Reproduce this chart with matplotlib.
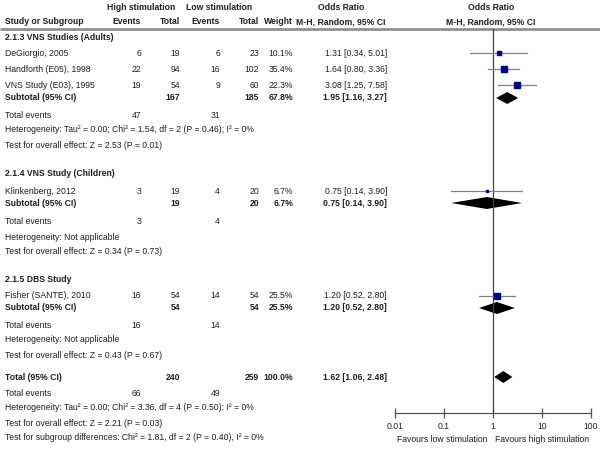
import numpy as np
import matplotlib
matplotlib.use("Agg")
import matplotlib.pyplot as plt
from matplotlib.ticker import FixedLocator, FixedFormatter

plt.rcParams['font.family'] = ['Liberation Sans', 'DejaVu Sans']

# study level data
studies = ["DeGiorgio, 2005", "Handforth (E05), 1998", "VNS Study (E03), 1995",
           "Klinkenberg, 2012", "Fisher (SANTE), 2010"]
hi_events = [6, 22, 19, 3, 16]
hi_total = [19, 94, 54, 19, 54]
lo_events = [6, 16, 9, 4, 14]
lo_total = [23, 102, 60, 20, 54]
weights = [10.1, 35.4, 22.3, 6.7, 25.5]
odds = [1.31, 1.64, 3.08, 0.75, 1.20]
ci_low = [0.34, 0.80, 1.25, 0.14, 0.52]
ci_high = [5.01, 3.36, 7.58, 3.90, 2.80]

# subgroup data
groups = ["2.1.3 VNS Studies (Adults)", "2.1.4 VNS Study (Children)", "2.1.5 DBS Study"]
sub_hi_total = [167, 19, 54]
sub_lo_total = [185, 20, 54]
sub_weight = [67.8, 6.7, 25.5]
sub_or = [1.95, 0.75, 1.20]
sub_low = [1.16, 0.14, 0.52]
sub_high = [3.27, 3.90, 2.80]
sub_hi_events = [47, 3, 16]
sub_lo_events = [31, 4, 14]
sub_het = ["Heterogeneity: Tau\u00b2 = 0.00; Chi\u00b2 = 1.54, df = 2 (P = 0.46); I\u00b2 = 0%",
           "Heterogeneity: Not applicable", "Heterogeneity: Not applicable"]
sub_test = ["Test for overall effect: Z = 2.53 (P = 0.01)",
            "Test for overall effect: Z = 0.34 (P = 0.73)",
            "Test for overall effect: Z = 0.43 (P = 0.67)"]

# overall
tot_hi_total, tot_lo_total, tot_weight = 240, 259, 100.0
tot_or, tot_low, tot_high = 1.62, 1.06, 2.48
tot_hi_events, tot_lo_events = 66, 49
tot_het = "Heterogeneity: Tau\u00b2 = 0.00; Chi\u00b2 = 3.36, df = 4 (P = 0.50); I\u00b2 = 0%"
tot_test = "Test for overall effect: Z = 2.21 (P = 0.03)"
subgroup_test = "Test for subgroup differences: Chi\u00b2 = 1.81, df = 2 (P = 0.40), I\u00b2 = 0%"

tick_vals = [0.01, 0.1, 1, 10, 100]
tick_labels = ["0.01", "0.1", "1", "10", "100"]

# row positions (pixels from top)
group_rows = [38, 174, 279]
study_rows = [53, 69, 85, 191, 296]
sub_rows = [98, 203, 308]
te_rows = [116, 221, 325]
het_rows = [130, 237, 340]
test_rows = [146, 252, 355]
total_row, total_te_row, total_het_row, total_test_row, sg_row = 377, 393, 408, 423, 438

TXT = '#1e1e1e'
FS = 6.2
W, H = 600, 454

fig = plt.figure(figsize=(6, 4.54), dpi=100)
ax = fig.add_axes([0, 0, 1, 1])
ax.set_xlim(0, W)
ax.set_ylim(H, 0)
ax.axis('off')

def t(x, y, s, ha='left', bold=False):
    ax.text(x, y, s, ha=ha, va='center', fontsize=FS, color=TXT,
            fontweight='bold' if bold else 'normal')

col_he, col_ht, col_le, col_lt, col_w, col_ci = 141, 180, 220, 259, 293, 387

# header
t(141, 7, "High stimulation", 'center', True)
t(219, 7, "Low stimulation", 'center', True)
t(341, 7, "Odds Ratio", 'center', True)
t(491, 7, "Odds Ratio", 'center', True)
t(5, 22, "Study or Subgroup", bold=True)
t(col_he, 22, "Events", 'right', True)
t(col_ht, 22, "Total", 'right', True)
t(col_le, 22, "Events", 'right', True)
t(col_lt, 22, "Total", 'right', True)
t(col_w, 22, "Weight", 'right', True)
t(341, 22, "M-H, Random, 95% CI", 'center', True)
t(491, 22, "M-H, Random, 95% CI", 'center', True)
ax.plot([0, W], [28.5, 28.5], color='#909090', lw=2, solid_capstyle='butt')

for i, name in enumerate(studies):
    y = study_rows[i]
    t(5, y, name)
    t(col_he, y, str(hi_events[i]), 'right')
    t(col_ht, y, str(hi_total[i]), 'right')
    t(col_le, y, str(lo_events[i]), 'right')
    t(col_lt, y, str(lo_total[i]), 'right')
    t(col_w, y, "%.1f%%" % weights[i], 'right')
    t(col_ci, y, "%.2f [%.2f, %.2f]" % (odds[i], ci_low[i], ci_high[i]), 'right')

for g, name in enumerate(groups):
    t(5, group_rows[g], name, bold=True)
    y = sub_rows[g]
    t(5, y, "Subtotal (95% CI)", bold=True)
    t(col_ht, y, str(sub_hi_total[g]), 'right', True)
    t(col_lt, y, str(sub_lo_total[g]), 'right', True)
    t(col_w, y, "%.1f%%" % sub_weight[g], 'right', True)
    t(col_ci, y, "%.2f [%.2f, %.2f]" % (sub_or[g], sub_low[g], sub_high[g]), 'right', True)
    t(5, te_rows[g], "Total events")
    t(col_he, te_rows[g], str(sub_hi_events[g]), 'right')
    t(col_le, te_rows[g], str(sub_lo_events[g]), 'right')
    t(5, het_rows[g], sub_het[g])
    t(5, test_rows[g], sub_test[g])

t(5, total_row, "Total (95% CI)", bold=True)
t(col_ht, total_row, str(tot_hi_total), 'right', True)
t(col_lt, total_row, str(tot_lo_total), 'right', True)
t(col_w, total_row, "%.1f%%" % tot_weight, 'right', True)
t(col_ci, total_row, "%.2f [%.2f, %.2f]" % (tot_or, tot_low, tot_high), 'right', True)
t(5, total_te_row, "Total events")
t(col_he, total_te_row, str(tot_hi_events), 'right')
t(col_le, total_te_row, str(tot_lo_events), 'right')
t(5, total_het_row, tot_het)
t(5, total_test_row, tot_test)
t(5, sg_row, subgroup_test)

# forest panel, axis line sits at y=413
x0, x1, ytop, ybot = 395, 591, 28.5, 413
fx = fig.add_axes([x0 / W, (H - ybot) / H, (x1 - x0) / W, (ybot - ytop) / H])
fx.set_xscale('log')
fx.set_xlim(0.01, 100)
fx.set_ylim(ybot, ytop)
fx.patch.set_visible(False)
for s in ['top', 'right', 'left']:
    fx.spines[s].set_visible(False)
fx.spines['bottom'].set_color('#555555')
fx.spines['bottom'].set_linewidth(0.9)
fx.set_yticks([])
fx.xaxis.set_major_locator(FixedLocator(tick_vals))
fx.xaxis.set_major_formatter(FixedFormatter(tick_labels))
fx.xaxis.set_minor_locator(FixedLocator([]))
fx.tick_params(axis='x', direction='inout', length=7, width=0.9, color='#555555',
               labelsize=FS, labelcolor=TXT, pad=3)
fx.axvline(1, color='#444444', lw=0.9)

for i in range(len(studies)):
    y = study_rows[i]
    fx.plot([ci_low[i], ci_high[i]], [y, y], color='#808080', lw=0.9)
    side = np.sqrt(weights[i]) * 1.1 / 1.389
    fx.plot(odds[i], y, marker='s', ms=side, color='#00008f', mec='#00008f')

def diamond(est, lo, hi, y, h=6):
    fx.fill([lo, est, hi, est], [y, y - h, y, y + h], color='black', lw=0)

for g in range(len(groups)):
    diamond(sub_or[g], sub_low[g], sub_high[g], sub_rows[g])
diamond(tot_or, tot_low, tot_high, total_row)

t(442, 439, "Favours low stimulation", 'center')
t(542, 439, "Favours high stimulation", 'center')

fig.savefig("out.png", dpi=100)
